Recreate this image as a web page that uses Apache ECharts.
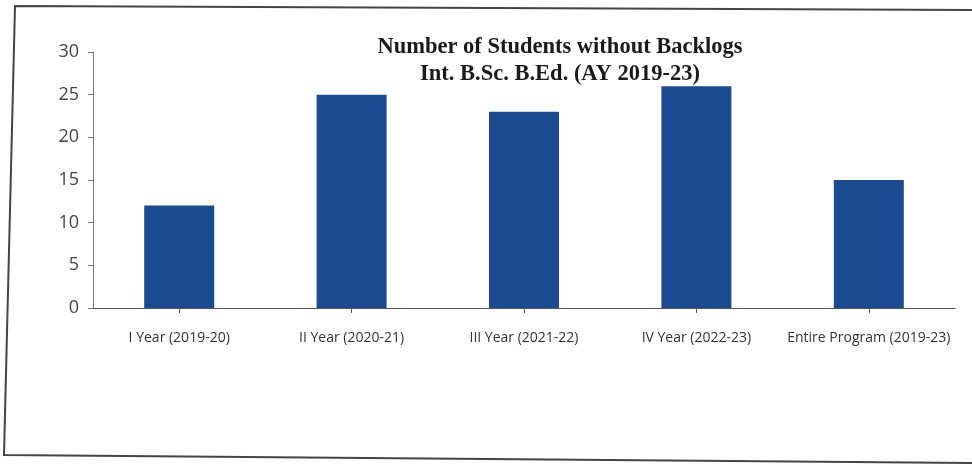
<!DOCTYPE html>
<html>
<head>
<meta charset="utf-8">
<script src="https://cdn.jsdelivr.net/npm/echarts@6/dist/echarts.min.js"></script>
<style>
html,body{margin:0;padding:0;background:#fff;}
#c{width:972px;height:466px;}
</style>
</head>
<body>
<div id="c"></div>
<script>
const categories = ["I Year (2019-20)", "II Year (2020-21)", "III Year (2021-22)", "IV Year (2022-23)", "Entire Program (2019-23)"];
const studentsWithoutBacklogs = [12, 25, 23, 26, 15];
const yTicks = { min: 0, max: 30, interval: 5 };
const titleLines = ["Number of Students without Backlogs", "Int. B.Sc. B.Ed. (AY 2019-23)"];

const chart = echarts.init(document.getElementById('c'), null, { renderer: 'canvas' });
chart.setOption({
  backgroundColor: '#ffffff',
  animation: false,
  title: {
    text: titleLines.join('\n'),
    left: 555,
    top: 29,
    textAlign: 'center',
    textStyle: {
      fontFamily: 'Liberation Serif',
      fontWeight: 'bold',
      fontSize: 22.5,
      lineHeight: 27,
      color: '#1a1a1a'
    }
  },
  grid: { left: 93, right: 17, top: 52, bottom: 158, containLabel: false },
  xAxis: {
    type: 'category',
    data: categories,
    axisLine: { lineStyle: { color: '#555', width: 1.2 } },
    axisTick: { show: true, alignWithLabel: true, length: 5, lineStyle: { color: '#555' } },
    axisLabel: {
      interval: 0,
      margin: 23,
      fontFamily: 'Open Sans',
      fontSize: 14,
      color: '#333'
    }
  },
  yAxis: {
    type: 'value',
    min: yTicks.min,
    max: yTicks.max,
    interval: yTicks.interval,
    axisLine: { show: true, lineStyle: { color: '#777', width: 1 } },
    axisTick: { show: true, length: 5, lineStyle: { color: '#777' } },
    splitLine: { show: false },
    axisLabel: {
      margin: 14,
      fontFamily: 'Open Sans',
      fontSize: 18,
      color: '#444'
    }
  },
  series: [{
    type: 'bar',
    data: studentsWithoutBacklogs,
    barWidth: 70,
    itemStyle: { color: '#1a4a90' }
  }],
  graphic: [{
    type: 'polyline',
    silent: true,
    shape: { points: [[972, 10], [15, 6], [4, 455], [972, 463]] },
    style: { stroke: '#444', lineWidth: 2, fill: null }
  }]
});
</script>
</body>
</html>
